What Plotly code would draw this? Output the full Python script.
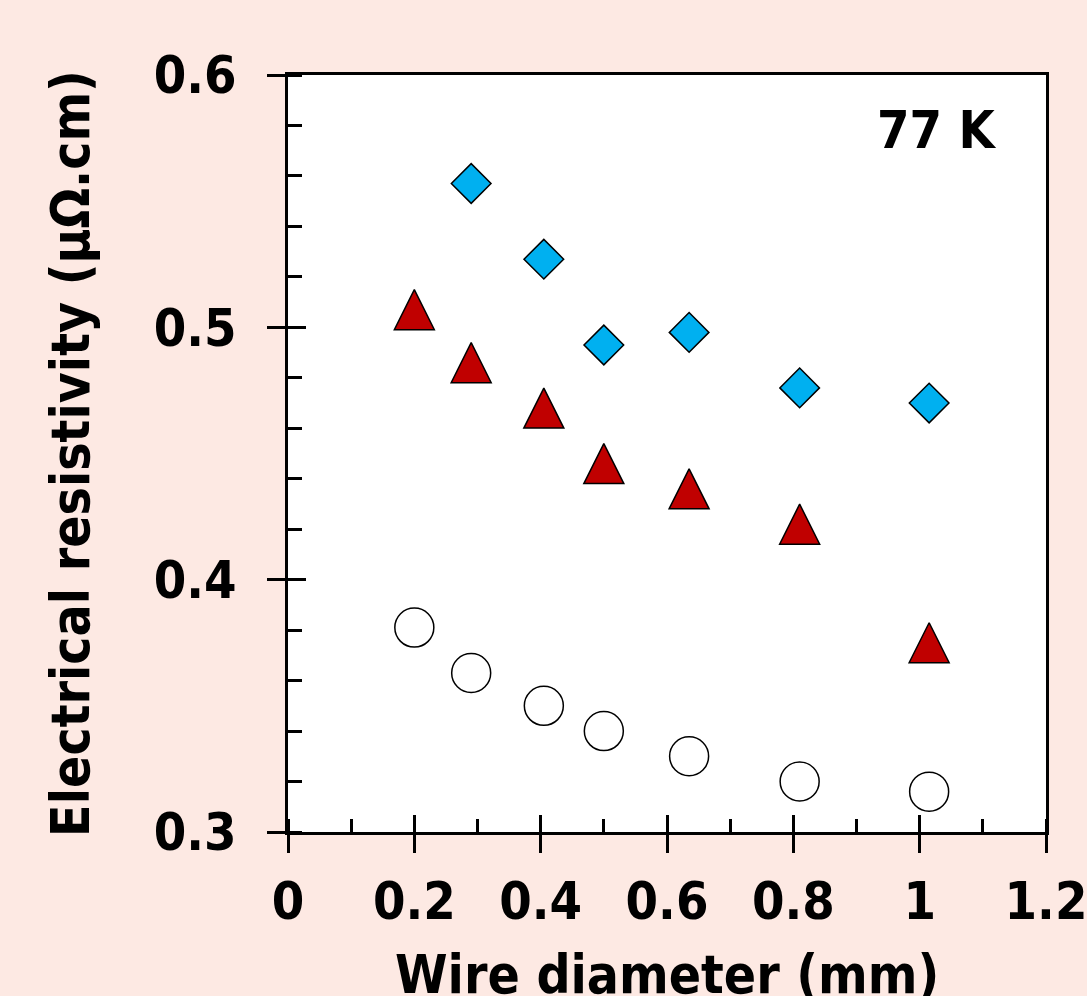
import plotly.graph_objects as go

# Wire diameters (mm)
diam_all = [0.2, 0.29, 0.405, 0.5, 0.635, 0.81, 1.015]
diam_blue = [0.29, 0.405, 0.5, 0.635, 0.81, 1.015]

# Electrical resistivity at 77 K (µΩ·cm)
rho_blue = [0.557, 0.527, 0.493, 0.498, 0.476, 0.470]
rho_red = [0.507, 0.486, 0.468, 0.446, 0.436, 0.422, 0.375]
rho_open = [0.381, 0.363, 0.350, 0.340, 0.330, 0.320, 0.316]

x_ticks = [0, 0.2, 0.4, 0.6, 0.8, 1.0, 1.2]
x_ticklabels = ["0", "0.2", "0.4", "0.6", "0.8", "1", "1.2"]
y_ticks = [0.3, 0.4, 0.5, 0.6]
y_ticklabels = ["0.3", "0.4", "0.5", "0.6"]

FONT = "DejaVu Sans Condensed, DejaVu Sans, sans-serif"
BG = "#FDE9E3"

fig = go.Figure()

fig.add_trace(go.Scatter(
    x=diam_blue, y=rho_blue, mode="markers",
    marker=dict(symbol="diamond", size=30.5, color="#00B0F0",
                line=dict(color="black", width=1.5)),
    showlegend=False, hoverinfo="x+y"))

# arrow-down turned half a turn gives a 1:1 upward triangle; the standoff
# slides it so its box is centred on the data point
fig.add_trace(go.Scatter(
    x=diam_all, y=rho_red, mode="markers",
    marker=dict(symbol="arrow-down", size=40, angle=180, standoff=20,
                color="#C00000", line=dict(color="black", width=1.5)),
    showlegend=False, hoverinfo="x+y"))

# open circles sit on the overlay axes that carry the inner half of the major ticks
fig.add_trace(go.Scatter(
    x=diam_all, y=rho_open, mode="markers", xaxis="x2", yaxis="y2",
    marker=dict(symbol="circle", size=39, color="white",
                line=dict(color="black", width=1.5)),
    showlegend=False, hoverinfo="x+y"))

tickfont = dict(family=FONT, size=52, color="black", weight="bold")
titlefont = dict(family=FONT, size=53, color="black", weight="bold")

fig.update_layout(
    width=1087, height=996,
    margin=dict(l=288, r=41, t=75, b=164),
    paper_bgcolor=BG, plot_bgcolor="white",
    xaxis=dict(
        range=[0, 1.2], tickvals=x_ticks, ticktext=x_ticklabels,
        ticks="outside", ticklen=18, tickwidth=3, tickcolor="black",
        minor=dict(ticks="inside", dtick=0.1, tick0=0, ticklen=13,
                   tickwidth=3, tickcolor="black", showgrid=False),
        showline=True, linewidth=3, linecolor="black", mirror=True,
        showgrid=False, zeroline=False, tickfont=tickfont,
        ticklabelstandoff=4, ticklabeloverflow="allow", automargin=False,
    ),
    yaxis=dict(
        range=[0.3, 0.6], tickvals=y_ticks, ticktext=y_ticklabels,
        ticks="outside", ticklen=18, tickwidth=3, tickcolor="black",
        minor=dict(ticks="inside", dtick=0.02, tick0=0.3, ticklen=14,
                   tickwidth=3, tickcolor="black", showgrid=False),
        showline=True, linewidth=3, linecolor="black", mirror=True,
        showgrid=False, zeroline=False, tickfont=tickfont,
        ticklabelstandoff=20, ticklabeloverflow="allow", automargin=False,
        title=dict(text="Electrical resistivity (μΩ.cm)", font=titlefont,
                   standoff=48),
    ),
    xaxis2=dict(
        overlaying="x", anchor="y2", side="bottom", range=[0, 1.2],
        tickvals=x_ticks, ticks="inside", ticklen=17, tickwidth=3,
        tickcolor="black", showticklabels=False, showline=False,
        showgrid=False, zeroline=False, automargin=False,
    ),
    yaxis2=dict(
        overlaying="y", anchor="x2", side="left", range=[0.3, 0.6],
        tickvals=y_ticks, ticks="inside", ticklen=18, tickwidth=3,
        tickcolor="black", showticklabels=False, showline=False,
        showgrid=False, zeroline=False, automargin=False,
    ),
    annotations=[
        dict(text="77 K", xref="paper", yref="paper", x=0.856, y=0.928,
             xanchor="center", yanchor="middle", showarrow=False,
             font=dict(family=FONT, size=52, color="black", weight="bold")),
        # x-axis title, set low so it runs off the bottom edge
        dict(text="Wire diameter (mm)", xref="paper", yref="paper",
             x=0.5, y=-0.1447, xanchor="center", yanchor="top",
             showarrow=False, font=titlefont),
    ],
)

fig.write_html("out.html")
